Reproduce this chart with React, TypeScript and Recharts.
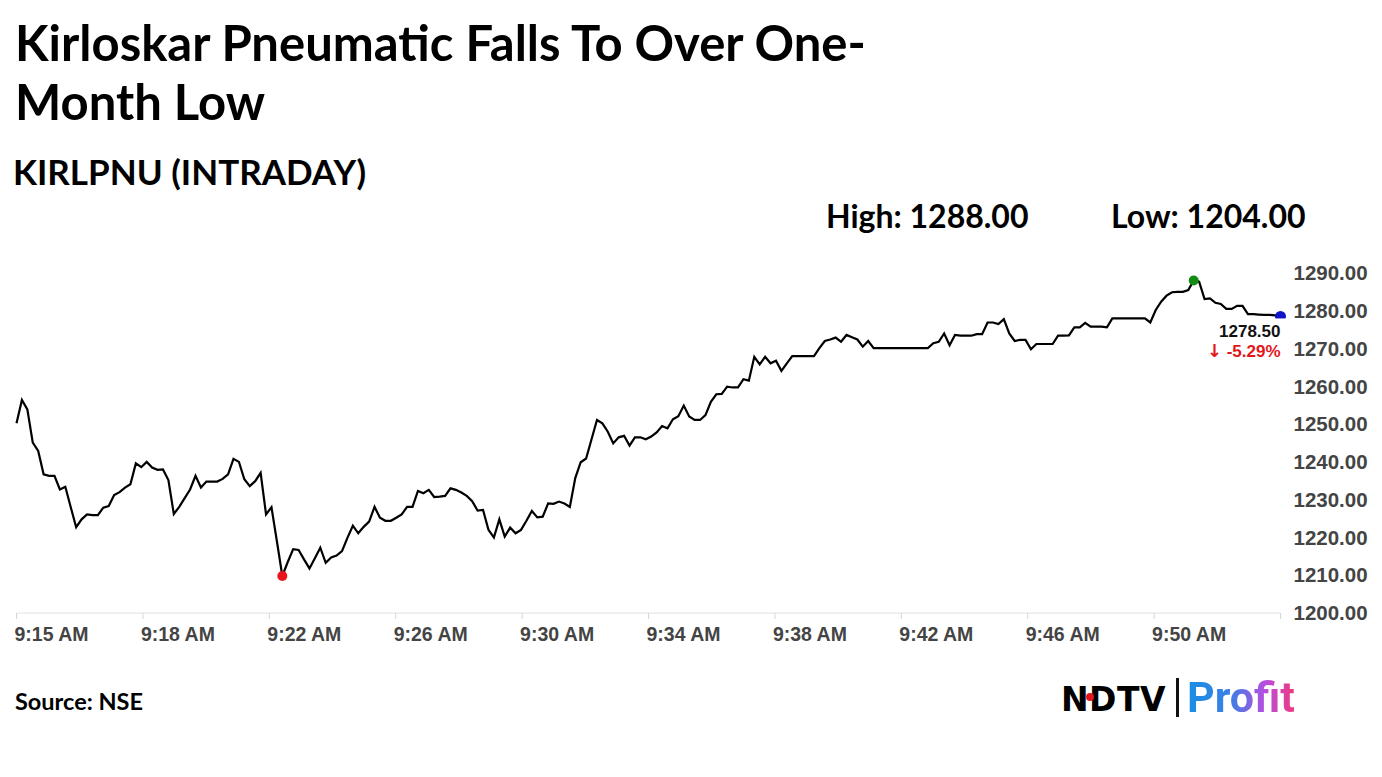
import React from 'react';
import { LineChart, Line, XAxis, YAxis } from 'recharts';

const prices: number[] = [
  1250.2, 1256.4, 1253.9, 1245.1, 1242.9, 1236.7, 1236.3, 1236.3, 1232.7, 1233.4,
  1228.0, 1222.7, 1224.8, 1226.1, 1225.9, 1225.9, 1227.9, 1228.3, 1231.2, 1232.0,
  1233.2, 1234.1, 1239.6, 1238.6, 1240.0, 1238.5, 1237.9, 1238.0, 1235.2, 1226.2,
  1228.1, 1230.4, 1232.7, 1236.3, 1233.2, 1234.8, 1234.8, 1234.8, 1235.5, 1236.7,
  1240.8, 1240.0, 1235.4, 1233.6, 1234.9, 1237.1, 1226.1, 1228.0, 1219.0, 1209.8,
  1213.5, 1216.9, 1216.7, 1214.2, 1211.8, 1214.5, 1217.3, 1213.3, 1214.7, 1215.2,
  1216.4, 1219.9, 1223.1, 1221.1, 1222.8, 1224.2, 1228.1, 1225.2, 1224.4, 1224.4,
  1225.2, 1226.1, 1228.1, 1228.1, 1232.3, 1231.7, 1232.6, 1230.7, 1230.8, 1231.0,
  1233.0, 1232.6, 1231.9, 1231.0, 1229.6, 1227.1, 1227.3, 1222.0, 1220.0, 1224.8,
  1220.2, 1222.6, 1221.1, 1222.0, 1224.4, 1227.0, 1225.3, 1225.5, 1229.0, 1228.9,
  1229.5, 1229.0, 1228.1, 1235.7, 1239.9, 1240.9, 1246.0, 1251.1, 1250.2, 1248.0,
  1244.9, 1246.5, 1246.9, 1244.3, 1246.5, 1246.5, 1246.0, 1246.7, 1247.8, 1249.5,
  1248.9, 1251.3, 1252.1, 1254.9, 1252.0, 1251.1, 1251.1, 1252.4, 1255.9, 1257.9,
  1258.0, 1259.9, 1259.7, 1259.7, 1261.9, 1261.5, 1267.8, 1265.8, 1267.8, 1266.1,
  1266.8, 1264.1, 1266.1, 1268.0, 1268.0, 1268.0, 1268.0, 1268.0, 1270.1, 1272.0,
  1272.4, 1272.9, 1271.8, 1273.6, 1273.0, 1272.4, 1270.5, 1272.0, 1270.1, 1270.1,
  1270.1, 1270.1, 1270.1, 1270.1, 1270.1, 1270.1, 1270.1, 1270.1, 1270.1, 1271.4,
  1271.8, 1274.0, 1270.9, 1273.6, 1273.4, 1273.4, 1273.4, 1273.8, 1273.8, 1276.9,
  1276.9, 1276.5, 1277.8, 1274.0, 1272.0, 1272.3, 1272.3, 1269.8, 1271.2, 1271.2,
  1271.2, 1271.2, 1273.4, 1273.4, 1273.5, 1275.6, 1275.6, 1276.8, 1275.8, 1275.8,
  1275.8, 1275.6, 1278.0, 1278.0, 1278.0, 1278.0, 1278.0, 1278.0, 1278.0, 1276.9,
  1280.2, 1282.4, 1284.0, 1284.9, 1285.0, 1285.0, 1285.5, 1288.0, 1287.7, 1283.1,
  1283.3, 1282.1, 1281.8, 1280.5, 1280.5, 1281.3, 1281.3, 1279.1, 1279.1, 1279.0,
  1278.9, 1278.9, 1278.8, 1278.5,
];

const timeLabels: string[] = [
  '9:15 AM', '9:18 AM', '9:22 AM', '9:26 AM', '9:30 AM', '9:34 AM',
  '9:38 AM', '9:42 AM', '9:46 AM', '9:50 AM', '',
];

const yTicks: number[] = [1200, 1210, 1220, 1230, 1240, 1250, 1260, 1270, 1280, 1290];

const titleLines: string[] = ['Kirloskar Pneumatic Falls To Over One-', 'Month Low'];
const subtitle = 'KIRLPNU (INTRADAY)';
const highText = 'High: 1288.00';
const lowText = 'Low: 1204.00';
const lastPriceText = '1278.50';
const changeText = '-5.29%';
const sourceText = 'Source: NSE';

const data = prices.map((p, i) => ({ i, price: p }));
const lastIndex = prices.length - 1;
const minIdx = prices.indexOf(Math.min(...prices));
const maxIdx = prices.indexOf(Math.max(...prices));
const xTicks = timeLabels.map((_, k) => (k * lastIndex) / (timeLabels.length - 1));

const AXIS_FONT = '"Liberation Sans", Arial, sans-serif';

const XTick = (props: any) => {
  const { x, y, payload } = props;
  const k = Math.round((payload.value * (timeLabels.length - 1)) / lastIndex);
  return (
    <text x={x - 2} y={y + 20} textAnchor="start" fontFamily={AXIS_FONT} fontSize={19.5} fontWeight="bold" fill="#444">
      {timeLabels[k]}
    </text>
  );
};

const renderDot = (props: any) => {
  const { cx, cy, index } = props;
  if (index === minIdx) return <circle key="dmin" cx={cx} cy={cy} r={5} fill="#e8141a" />;
  if (index === maxIdx) return <circle key="dmax" cx={cx} cy={cy} r={5} fill="#138a13" />;
  if (index === lastIndex)
    return (
      <g key="dlast">
        <circle cx={cx} cy={cy} r={5.5} fill="#1212c8" />
        <rect x={cx - 78} y={cy + 2} width={84} height={46} fill="#fff" />
        <text x={cx} y={cy + 21} textAnchor="end" fontFamily={AXIS_FONT} fontSize={17} fontWeight="bold" fill="#111">
          {lastPriceText}
        </text>
        <text x={cx} y={cy + 41} textAnchor="end" fontFamily={AXIS_FONT} fontSize={17} fontWeight="bold" fill="#e3161b">
          <tspan fontFamily='"DejaVu Sans", sans-serif' fontSize={18}>{'↓'}</tspan>
          <tspan>{' ' + changeText}</tspan>
        </text>
      </g>
    );
  return <g key={`d${index}`} />;
};

const textBase: React.CSSProperties = {
  position: 'absolute',
  fontFamily: 'Lato, "Open Sans", sans-serif',
  fontWeight: 700,
  color: '#000',
  lineHeight: 1,
  whiteSpace: 'nowrap',
};

export default function App() {
  return (
    <div style={{ position: 'absolute', left: 0, top: 0, width: 1382, height: 777, background: '#fff', overflow: 'hidden' }}>
      <div style={{ ...textBase, left: 15, top: 18, fontSize: 49 }}>{titleLines[0]}</div>
      <div style={{ ...textBase, left: 15, top: 77, fontSize: 49 }}>{titleLines[1]}</div>
      <div style={{ ...textBase, left: 13, top: 154, fontSize: 35 }}>{subtitle}</div>
      <div style={{ ...textBase, left: 826, top: 200, fontSize: 32 }}>{highText}</div>
      <div style={{ ...textBase, left: 1111, top: 200, fontSize: 32 }}>{lowText}</div>

      <div style={{ position: 'absolute', left: 0, top: 0 }}>
        <LineChart width={1382} height={777} data={data} margin={{ top: 273, right: 11.5, bottom: 134, left: 16.5 }}>
          <XAxis
            type="number"
            dataKey="i"
            domain={[0, lastIndex]}
            ticks={xTicks}
            interval={0}
            axisLine={{ stroke: '#e2e2e2' }}
            tickLine={{ stroke: '#d4d4d4' }}
            tickSize={6}
            tick={<XTick />}
            height={30}
          />
          <YAxis
            orientation="right"
            domain={[1200, 1290]}
            ticks={yTicks}
            interval={0}
            axisLine={false}
            tickLine={false}
            tickSize={0}
            tickMargin={13}
            width={90}
            tick={{ fontSize: 20.5, fill: '#444', fontFamily: AXIS_FONT, fontWeight: 'bold' }}
            tickFormatter={(v: number) => v.toFixed(2)}
          />
          <Line
            type="linear"
            dataKey="price"
            stroke="#000"
            strokeWidth={2.2}
            dot={renderDot}
            activeDot={false}
            isAnimationActive={false}
          />
        </LineChart>
      </div>

      <div style={{ ...textBase, left: 15, top: 690, fontSize: 23.5 }}>{sourceText}</div>

      <div style={{ position: 'absolute', left: 1061, top: 683, fontFamily: '"DejaVu Sans", sans-serif', fontWeight: 700, fontSize: 33, lineHeight: 1, color: '#000', letterSpacing: 0.5 }}>
        NDTV
      </div>
      <div style={{ position: 'absolute', left: 1086, top: 693, width: 8, height: 8, borderRadius: 4, background: '#e3161b' }} />
      <div style={{ position: 'absolute', left: 1176, top: 678, width: 2.5, height: 39, background: '#111' }} />
      <div
        style={{
          position: 'absolute',
          left: 1187,
          top: 676,
          fontFamily: 'Roboto, sans-serif',
          fontWeight: 700,
          fontSize: 43,
          lineHeight: 1,
          background: 'linear-gradient(90deg, #1a8fe3 0%, #3b7fe6 40%, #b64fe0 72%, #f0387c 100%)',
          WebkitBackgroundClip: 'text',
          backgroundClip: 'text',
          color: 'transparent',
        }}
      >
        Profit
      </div>
    </div>
  );
}
